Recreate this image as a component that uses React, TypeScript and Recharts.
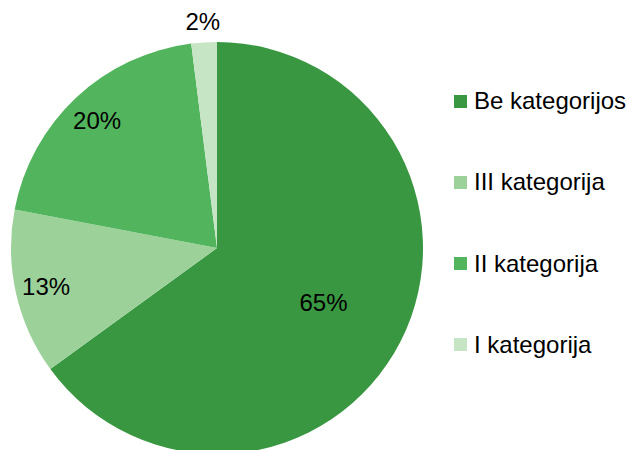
import { PieChart, Pie, Cell, Legend } from "recharts";

const categories = ["Be kategorijos", "III kategorija", "II kategorija", "I kategorija"];
const shares = [65, 13, 20, 2];
const colors = ["#3a9741", "#9cd29a", "#52b55d", "#c6e5c4"];
// label distance from centre, as a share of the radius
const labelRadius = [0.58, 0.85, 0.85, 1.1];

const data = categories.map((name, i) => ({ name, value: shares[i] }));

const RADIAN = Math.PI / 180;
const FONT = "'Liberation Sans', Arial, sans-serif";

const renderLabel = (props: any) => {
  const { cx, cy, midAngle, outerRadius, index, value } = props;
  const r = outerRadius * labelRadius[index];
  const x = cx + r * Math.cos(-midAngle * RADIAN);
  const y = cy + r * Math.sin(-midAngle * RADIAN);
  return (
    <text x={x} y={y} textAnchor="middle" dominantBaseline="central" fill="#000" fontSize={24} fontFamily={FONT}>
      {value}%
    </text>
  );
};

const renderLegend = () => (
  <div style={{ fontFamily: FONT, fontSize: 24, color: "#000" }}>
    {categories.map((name, i) => (
      <div key={name} style={{ display: "flex", alignItems: "center", height: 26, marginBottom: i < categories.length - 1 ? 55.3 : 0 }}>
        <span style={{ width: 13, height: 13, background: colors[i], marginRight: 7, display: "inline-block", flexShrink: 0 }} />
        <span style={{ whiteSpace: "nowrap" }}>{name}</span>
      </div>
    ))}
  </div>
);

export default function App() {
  return (
    <div style={{ position: "absolute", left: 0, top: 0, width: 627, height: 450, overflow: "hidden", background: "#fff" }}>
      <PieChart width={627} height={450} margin={{ top: 0, right: 0, bottom: 0, left: 0 }}>
        <Pie
          data={data}
          dataKey="value"
          nameKey="name"
          cx={217}
          cy={248}
          outerRadius={206}
          startAngle={90}
          endAngle={-270}
          stroke="none"
          label={renderLabel}
          labelLine={false}
          isAnimationActive={false}
        >
          {data.map((d, i) => (
            <Cell key={d.name} fill={colors[i]} />
          ))}
        </Pie>
        <Legend
          content={renderLegend}
          layout="vertical"
          align="right"
          verticalAlign="middle"
          wrapperStyle={{ left: 454, top: 88, right: "auto", width: 173 }}
        />
      </PieChart>
    </div>
  );
}
